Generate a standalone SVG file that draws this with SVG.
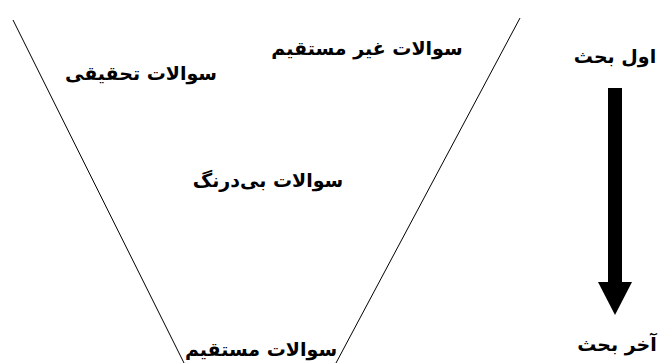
<svg xmlns="http://www.w3.org/2000/svg" width="669" height="363" viewBox="0 0 669 363">
<style>
text{font-family:"DejaVu Sans","Noto Sans",sans-serif;font-weight:bold;font-size:19px;fill:#000;text-anchor:middle}
.ln{stroke:#000;stroke-width:1;fill:none}
</style>
<rect width="669" height="363" fill="#fff"/>
<g id="funnel">
<line class="ln" x1="13" y1="20" x2="184" y2="363"/>
<line class="ln" x1="520" y1="18" x2="336" y2="363"/>
</g>
<g id="q-indirect"><text x="367" y="55" direction="rtl">سوالات غیر مستقیم</text></g>
<g id="q-research"><text x="141" y="80" direction="rtl">سوالات تحقیقی</text></g>
<g id="q-immediate"><text x="268" y="187" direction="rtl">سوالات بی‌درنگ</text></g>
<g id="q-direct"><text x="261" y="356" direction="rtl">سوالات مستقیم</text></g>
<g id="start"><text x="615" y="63" direction="rtl">اول بحث</text></g>
<g id="end"><text x="617" y="351" direction="rtl">آخر بحث</text></g>
<g id="connectors">
<rect x="608" y="88" width="14" height="196" fill="#000"/>
<polygon points="598,282 632,282 615,315" fill="#000"/>
</g>
</svg>
